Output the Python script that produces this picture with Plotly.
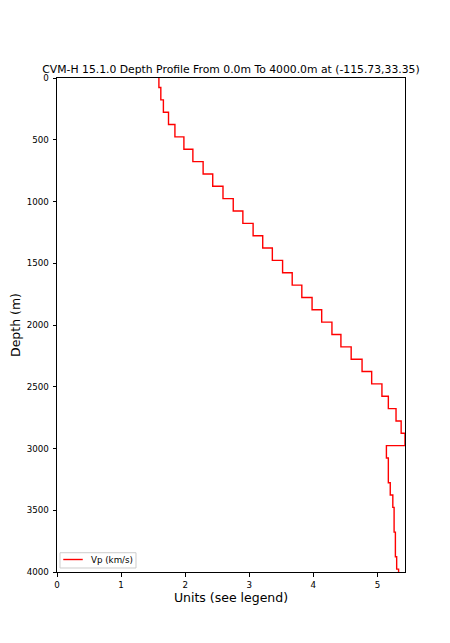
import plotly.graph_objects as go

# Depth (m) where each velocity segment starts, and Vp (km/s) of that segment
depth_start = [0, 77, 177, 277, 377, 477, 577, 677, 777, 877, 977, 1077, 1177,
               1277, 1377, 1477, 1577, 1677, 1777, 1877, 1977, 2077, 2177, 2277,
               2377, 2477, 2577, 2677, 2777, 2877, 2977, 3077, 3177, 3277, 3377,
               3477, 3577, 3677, 3777, 3877, 3977, 4000]
vp = [1.59, 1.62, 1.66, 1.74, 1.84, 1.98, 2.12, 2.28, 2.43, 2.59, 2.75, 2.90, 3.06,
      3.21, 3.36, 3.52, 3.67, 3.82, 3.98, 4.13, 4.29, 4.43, 4.59, 4.76,
      4.91, 5.07, 5.17, 5.29, 5.37, 5.43, 5.14, 5.17, 5.17, 5.20, 5.24,
      5.26, 5.26, 5.28, 5.28, 5.30, 5.33, 5.33]

x_ticks = [0, 1, 2, 3, 4, 5]
y_ticks = [0, 500, 1000, 1500, 2000, 2500, 3000, 3500, 4000]
legend_label = "Vp (km/s)"

FONT = "DejaVu Sans"

fig = go.Figure()
fig.add_trace(go.Scatter(
    x=vp, y=depth_start, mode="lines", line=dict(color="red", width=1.4, shape="vh"),
    name=legend_label, showlegend=False))

# matplotlib-style legend box (lower left)
fig.add_shape(type="rect", xref="paper", yref="paper", x0=0.0086, x1=0.227, y0=0.0081, y1=0.039,
              line=dict(color="#cccccc", width=1), fillcolor="rgba(255,255,255,0.8)", layer="above")
fig.add_shape(type="line", xref="paper", yref="paper", x0=0.018, x1=0.074, y0=0.0253, y1=0.0253,
              line=dict(color="red", width=1.4), layer="above")
fig.add_annotation(text=legend_label, xref="paper", yref="paper", x=0.092, y=0.0253,
                   xanchor="left", yanchor="middle", showarrow=False,
                   font=dict(size=8.7, family=FONT, color="black"))

fig.update_layout(
    width=450, height=643,
    margin=dict(l=49, r=53, t=70, b=79),
    paper_bgcolor="white", plot_bgcolor="white",
    font=dict(family=FONT, color="black"),
    title=dict(text="CVM-H 15.1.0 Depth Profile From 0.0m To 4000.0m at (-115.73,33.35)",
               x=0.5, xref="paper", y=1.0, yref="paper", yanchor="bottom",
               pad=dict(b=5), font=dict(size=10.8, family=FONT, color="black")),
    showlegend=False,
)
fig.update_xaxes(range=[0, 5.43], tickvals=x_ticks, ticks="outside", ticklen=3.5, tickwidth=1,
                 tickcolor="black", showline=True, linecolor="black", linewidth=1, mirror=True,
                 showgrid=False, zeroline=False, tickfont=dict(size=8.7), ticklabelstandoff=1,
                 automargin=False,
                 title=dict(text="Units (see legend)", font=dict(size=12.5), standoff=3))
fig.update_yaxes(range=[4000, 0], tickvals=y_ticks, ticks="outside", ticklen=3.5, tickwidth=1,
                 tickcolor="black", showline=True, linecolor="black", linewidth=1, mirror=True,
                 showgrid=False, zeroline=False, tickfont=dict(size=8.7), ticklabelstandoff=2,
                 automargin=False,
                 title=dict(text="Depth (m)", font=dict(size=12.5), standoff=4))

fig.write_html("out.html")
